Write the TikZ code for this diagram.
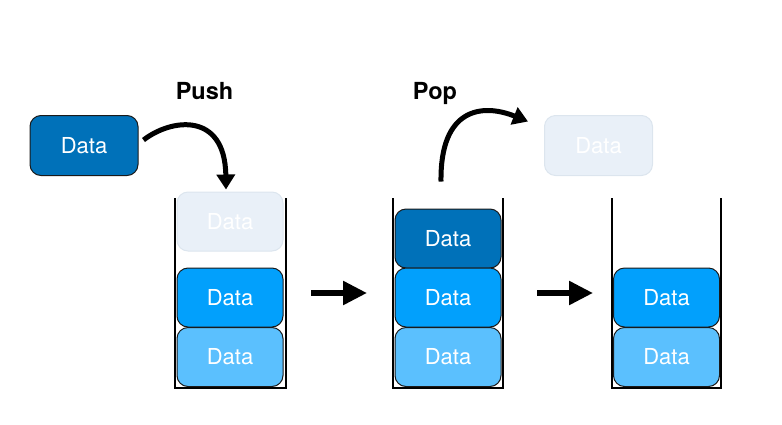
\documentclass[tikz,border=0pt]{standalone}
\usepackage{fontspec}
\setmainfont{TeX Gyre Heros}
\usetikzlibrary{arrows.meta,calc}
\definecolor{darkblue}{HTML}{0071B9}
\definecolor{midblue}{HTML}{02A0FC}
\definecolor{lightblue}{HTML}{5BC0FE}
\definecolor{fadefill}{HTML}{E9F0F8}
\definecolor{fadeline}{HTML}{DCE5EE}
\definecolor{outline}{HTML}{1A1A1A}
\tikzset{
  databox/.style={rectangle, rounded corners=11pt, minimum width=106pt, minimum height=59pt,
    inner sep=0pt, draw=outline, line width=1pt, text=white, font=\fontsize{22}{26}\selectfont},
  dark/.style={databox, fill=darkblue},
  mid/.style={databox, fill=midblue},
  light/.style={databox, fill=lightblue},
  faded/.style={databox, fill=fadefill, draw=fadeline},
  wall/.style={line width=2pt, black},
  bigarrow/.style={line width=5pt, -{Triangle[length=15pt,width=18pt]}},
  flatarrow/.style={line width=5.5pt, -{Triangle[length=24pt,width=23pt]}},
  lbl/.style={font=\bfseries\fontsize{23.5}{27}\selectfont, anchor=base, inner sep=0pt}
}
\begin{document}
\begin{tikzpicture}[x=1pt,y=-1pt]
\useasboundingbox (0,0) rectangle (782,424);
% stack walls
\draw[wall] (175,198) -- (175,388) -- (286,388) -- (286,198);
\draw[wall] (393,198) -- (393,388) -- (503,388) -- (503,198);
\draw[wall] (612,198) -- (612,388) -- (721,388) -- (721,198);
% data box to push
\node[dark, minimum width=108pt, minimum height=60pt] (data) at (84,145.5) {Data};
% stack 1
\node[faded] (f1) at (230,221.5) {Data};
\node[mid] (s1b) at (230,297.5) {Data};
\node[light] (s1c) at (230,357) {Data};
% stack 2
\node[dark] (s2a) at (448,238.5) {Data};
\node[mid] (s2b) at (448,297.5) {Data};
\node[light] (s2c) at (448,357) {Data};
% popped
\node[faded, minimum width=108pt, minimum height=60pt] (f2) at (598.5,145.5) {Data};
% stack 3
\node[mid] (s3b) at (666.5,297.5) {Data};
\node[light] (s3c) at (666.5,357) {Data};
% labels
\node[lbl] (push) at (204.5,99) {Push};
\node[lbl] (pop) at (435,99) {Pop};
% curved arrows
\draw[bigarrow] ($(data.east)+(5,-5.5)$) .. controls (172,118) and (225,112) .. ($(f1.north)+(-4,-2)$);
\draw[bigarrow] ($(s2a.north)+(-7,-27)$) .. controls (440,108) and (482,103) .. ($(f2.west)+(-16,-24)$);
% straight arrows
\coordinate (a1s) at (311,293);
\coordinate (a1e) at (367,293);
\coordinate (a2s) at (537,293);
\coordinate (a2e) at (593,293);
\draw[flatarrow] (a1s) -- (a1e);
\draw[flatarrow] (a2s) -- (a2e);
\end{tikzpicture}
\end{document}
